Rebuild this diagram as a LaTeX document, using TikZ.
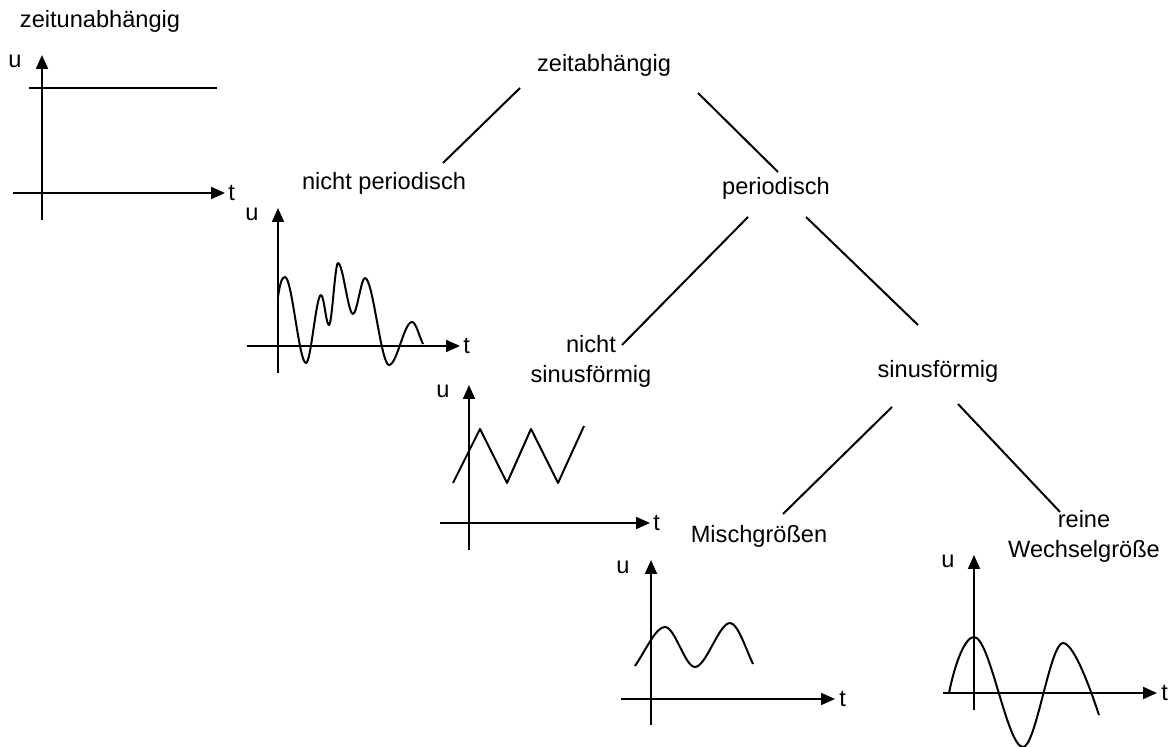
\documentclass[tikz,border=0pt]{standalone}
\usepackage{fontspec}
\setmainfont{Liberation Sans}
\usetikzlibrary{arrows.meta,calc}

\begin{document}
\begin{tikzpicture}[x=0.5pt, y=-0.5pt,
  lb/.style={font=\fontsize{11.8}{15}\selectfont, inner sep=1pt, align=center},
  ax/.style={-{Triangle[length=7pt,width=6pt]}, line width=1pt},
  cv/.style={line width=1pt, line join=round},
  ln/.style={line width=1pt}
]
\useasboundingbox (0,0) rectangle (1168,747);

% Begriffe
\node[lb, anchor=base] (zun) at (100,28)   {zeitunabhängig};
\node[lb, anchor=base] (zab) at (604,72)   {zeitabhängig};
\node[lb, anchor=base] (np)  at (384,190)  {nicht periodisch};
\node[lb, anchor=base] (per) at (776,195)  {periodisch};
\node[lb, anchor=base] (nsf) at (591,383)  {nicht\\sinusförmig};
\node[lb, anchor=base] (sf)  at (938,378)  {sinusförmig};
\node[lb, anchor=base] (mg)  at (759,543)  {Mischgrößen};
\node[lb, anchor=base] (rw)  at (1084,558) {reine\\Wechselgröße};

% Baum
\draw[ln] ($(zab.base)+(-84,16)$) -- ($(np.base)+(59,-27)$);
\draw[ln] ($(zab.base)+(94,21)$)  -- ($(per.base)+(2,-23)$);
\draw[ln] ($(per.base)+(-28,22)$) -- ($(nsf.base)+(31,-38)$);
\draw[ln] ($(per.base)+(30,22)$)  -- ($(sf.base)+(-20,-53)$);
\draw[ln] ($(sf.base)+(-46,29)$)  -- ($(mg.base)+(24,-29)$);
\draw[ln] ($(sf.base)+(20,26)$)   -- ($(rw.base)+(-24,-46)$);

% Gleichgroesse
\begin{scope}[shift={(42,193)}]
  \draw[ax] (0,27) -- (0,-138);
  \draw[ax] (-29,0) -- (183,0);
  \node[lb, anchor=base] (u1) at (-27,-125) {u};
  \node[lb, anchor=west] (t1) at (184,0) {t};
  \draw[cv] (-13,-105) -- (175,-105);
\end{scope}

% nicht periodisch
\begin{scope}[shift={(278,346)}]
  \draw[ax] (0,27) -- (0,-138);
  \draw[ax] (-31,0) -- (182,0);
  \node[lb, anchor=base] (u2) at (-26,-125) {u};
  \node[lb, anchor=west] (t2) at (183,0) {t};
  \draw[cv] (0,-49) .. controls +(2,-14) and +(-3,0) .. (7,-69)
    .. controls +(7,0) and +(-7,0) .. (28,17)
    .. controls +(5,0) and +(-5,0) .. (43,-51)
    .. controls +(3,0) and +(-3,0) .. (51,-21)
    .. controls +(3,0) and +(-3,0) .. (60,-83)
    .. controls +(5,0) and +(-5,0) .. (75,-32)
    .. controls +(4,0) and +(-4,0) .. (87,-68)
    .. controls +(8,0) and +(-8,0) .. (111,19)
    .. controls +(8,0) and +(-8,0) .. (134,-24)
    .. controls +(4,0) and +(-4,-8) .. (145,-2);
\end{scope}

% nicht sinusfoermig
\begin{scope}[shift={(469,523)}]
  \draw[ax] (0,27) -- (0,-138);
  \draw[ax] (-29,0) -- (181,0);
  \node[lb, anchor=base] (u3) at (-26,-125) {u};
  \node[lb, anchor=west] (t3) at (182,0) {t};
  \draw[cv] (-16,-40) -- (11,-94) -- (38,-40) -- (62,-94) -- (89,-40) -- (115,-97);
\end{scope}

% Mischgroesse
\begin{scope}[shift={(651,699)}]
  \draw[ax] (0,26) -- (0,-139);
  \draw[ax] (-30,0) -- (184,0);
  \node[lb, anchor=base] (u4) at (-28,-125) {u};
  \node[lb, anchor=west] (t4) at (186,0) {t};
  \draw[cv] (-16,-33) .. controls +(12,-18) and +(-9,0) .. (14,-72)
    .. controls +(10,0) and +(-10,0) .. (44,-32)
    .. controls +(11,0) and +(-11,0) .. (79,-76)
    .. controls +(8,0) and +(-6,-12) .. (102,-35);
\end{scope}

% reine Wechselgroesse
\begin{scope}[shift={(974,693)}]
  \draw[ax] (0,17) -- (0,-138);
  \draw[ax] (-31,0) -- (183,0);
  \node[lb, anchor=base] (u5) at (-26,-125) {u};
  \node[lb, anchor=west] (t5) at (185,0) {t};
  \draw[cv] (-25,0) .. controls +(6,-30) and +(-9,0) .. (0,-56)
    .. controls +(16,0) and +(-16,0) .. (49,54)
    .. controls +(13,0) and +(-13,0) .. (89,-50)
    .. controls +(12,0) and +(-5,-15) .. (125,22);
\end{scope}
\end{tikzpicture}
\end{document}
